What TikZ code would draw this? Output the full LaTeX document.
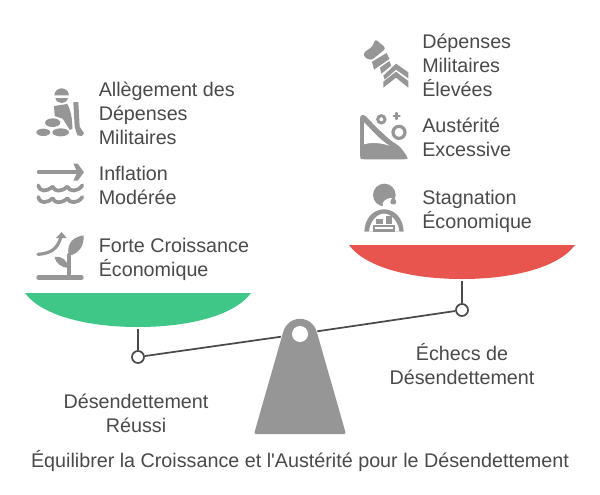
\documentclass[tikz,border=0pt]{standalone}
\usepackage{fontspec}
\setmainfont[Ligatures=TeXOff]{Liberation Sans}
\definecolor{txt}{HTML}{4A4A4A}
\definecolor{ico}{HTML}{969696}
\definecolor{grn}{HTML}{3EC787}
\definecolor{rd}{HTML}{E8554F}
\tikzset{
  lab/.style={text=txt,font=\fontsize{14.8}{18}\selectfont,inner sep=0pt},
  labl/.style={lab,anchor=west,align=left},
  labc/.style={lab,anchor=center,align=center},
  beam/.style={draw=txt,line width=1.3pt},
  pivot/.style={circle,draw=txt,line width=1.3pt,fill=white,minimum size=9pt,inner sep=0pt},
  zl/.style={x=0.25pt,y=-0.25pt,shift={(#1)}},
  ln/.style={draw=ico,line cap=round,line join=round}
}
\begin{document}
\begin{tikzpicture}[x=0.75pt,y=-0.75pt]
\useasboundingbox (0,0) rectangle (600,494);
\fill[white] (0,0) rectangle (600,494);
% bowls
\fill[grn] (25,293) -- (251,293) .. controls (235,315) and (190,327) .. (138,327) .. controls (86,327) and (41,315) .. (25,293) -- cycle;
\fill[rd] (349,245) -- (575,245) .. controls (559,267) and (514,279) .. (462,279) .. controls (410,279) and (365,267) .. (349,245) -- cycle;
% fulcrum
\fill[ico,rounded corners=1.5pt] (254,434) -- (283.5,331) -- (316.5,331) -- (346,434) -- cycle;
\fill[ico] (300,336) circle (17.2*0.75pt);
\node[circle,fill=white,minimum size=12pt,inner sep=0pt] (hole) at (300,334) {};
% beam
\node[pivot] (L) at (138,357) {};
\node[pivot] (R) at (462,310) {};
\coordinate (LS) at (138,329);
\coordinate (RS) at (462,281);
\coordinate (BL) at (281,336.7);
\coordinate (BR) at (317.3,331.3);
\draw[beam] (LS) -- (L);
\draw[beam] (RS) -- (R);
\draw[beam] (L) -- (BL);
\draw[beam] (BR) -- (R);
% labels
\node[labl] (a1) at (98.5,113) {Allègement des\\Dépenses\\Militaires};
\node[labl] (a2) at (98.5,185) {Inflation\\Modérée};
\node[labl] (a3) at (98.5,259) {Forte Croissance\\Économique};
\node[labl] (b1) at (422,65) {Dépenses\\Militaires\\Élevées};
\node[labl] (b2) at (422,137) {Austérité\\Excessive};
\node[labl] (b3) at (422,211) {Stagnation\\Économique};
\node[labc] (c1) at (136,413) {Désendettement\\Réussi};
\node[labc] (c2) at (462,364) {Échecs de\\Désendettement};
\node[labc] (t) at (300,461) {Équilibrer la Croissance et l'Austérité pour le Désendettement};
% icon 1
\begin{scope}[zl={60,210}]
\fill[ico] (103,76) .. controls (105,48) and (145,48) .. (147,76) -- cycle;
\fill[ico] (106,84) .. controls (110,104) and (140,104) .. (144,84) -- cycle;
\fill[ico] (102,108) -- (142,102) .. controls (154,125) and (157,150) .. (157,176) -- (150,180) -- (128,146) -- (104,138) -- cycle;
\fill[ico] (160,96) -- (175,96) -- (179,170) -- (192,190) -- (185,198) -- (172,196) -- (164,170) -- cycle;
\fill[ico] (98,158) ellipse (23 and 13);
\fill[ico] (70,187) ellipse (21 and 11);
\fill[ico] (122,187) ellipse (25 and 12);
% icon 2
\draw[ln,line width=2.8pt] (56,307) -- (170,307);
\fill[ico] (160,281) -- (173,281) -- (192,307) -- (173,332) -- (160,332) -- (172,307) -- cycle;
\foreach \yy in {346,381}{
\draw[ln,line width=2.8pt] (55,\yy) .. controls (60,\yy+20) and (78,\yy+20) .. (98,\yy+4) .. controls (104,\yy+20) and (124,\yy+20) .. (142,\yy+4) .. controls (148,\yy+20) and (174,\yy+20) .. (187,\yy);}
% icon 3
\draw[ln,line width=3.6pt] (56,622) -- (184,622);
\draw[ln,line width=3.2pt] (148,622) -- (148,555);
\fill[ico] (146,557) .. controls (138,515) and (165,500) .. (191,496) .. controls (193,525) and (178,552) .. (146,557) -- cycle;
\fill[ico] (145,594) .. controls (125,592) and (108,582) .. (104,560) .. controls (125,558) and (143,570) .. (145,594) -- cycle;
\draw[ln,line width=2.4pt] (54,553) .. controls (90,550) and (112,540) .. (124,498);
\fill[ico] (108,504) -- (125,486) -- (140,504) -- cycle;
\end{scope}
% icon 4
\begin{scope}[zl={1050,75}]
\fill[ico,rounded corners=2pt] (40,84) -- (68,64) -- (76,42) -- (108,70) -- (64,106) -- (44,98) -- cycle;
\fill[ico] (66,110) -- (110,84) -- (118,102) -- (72,134) -- cycle;
\fill[ico] (90,128) -- (118,108) -- (124,122) -- (94,146) -- cycle;
\fill[ico] (100,152) -- (138,116) -- (175,142) -- (175,160) -- (138,134) -- (104,164) -- cycle;
\fill[ico] (100,170) -- (138,140) -- (175,168) -- (175,188) -- (138,158) -- (100,188) -- cycle;
% icon 5
\fill[ico,rounded corners=2pt] (30,272) -- (42,268) -- (80,308) -- (120,345) -- (150,365) -- (174,398) -- (170,403) -- (35,403) -- (30,398) -- cycle;
\fill[white] (42,292) -- (42,358) .. controls (70,350) and (95,355) .. (118,362) .. controls (85,340) and (70,320) .. (42,292) -- cycle;
\draw[draw=ico,line width=2.2pt] (94,283) circle (11);
\draw[draw=ico,line width=2.4pt] (147,322) circle (18);
\draw[ln,line width=1.8pt] (140,264) -- (140,282) (131,273) -- (149,273);
% icon 6
\fill[ico] (103,510) circle (34);
\fill[white] (98,534) .. controls (104,520) and (128,514) .. (142,522) -- (145,550) -- (100,550) -- cycle;
\fill[ico] (130,513) .. controls (124,524) and (121,528) .. (121,531) .. controls (122,541) and (138,541) .. (139,531) .. controls (139,528) and (136,524) .. (130,513) -- cycle;
\fill[ico] (43,620) .. controls (44,580) and (70,553) .. (102,553) .. controls (134,553) and (160,580) .. (161,620) -- cycle;
\fill[white] (57,620) .. controls (60,590) and (80,566) .. (102,566) .. controls (124,566) and (145,590) .. (148,620) -- cycle;
\fill[ico] (68,600) rectangle (135,620);
\fill[ico] (78,582) rectangle (100,596);
\fill[ico] (107,572) rectangle (127,596);
\fill[white] (75,605) rectangle (128,613);
\end{scope}
\end{tikzpicture}
\end{document}
